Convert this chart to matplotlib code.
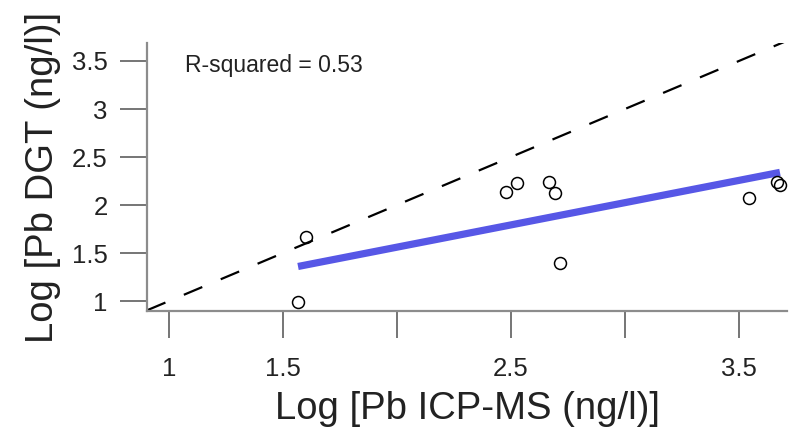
import numpy as np
import matplotlib
matplotlib.use("Agg")
import matplotlib.pyplot as plt

plt.rcParams['font.family'] = ['Liberation Sans', 'DejaVu Sans']

# Log Pb, ICP-MS vs DGT
icp_ms = [1.566, 1.602, 2.477, 2.528, 2.667, 2.693, 2.715, 3.546, 3.665, 3.680]
dgt = [0.993, 1.670, 2.139, 2.226, 2.243, 2.122, 1.399, 2.070, 2.243, 2.208]

# fitted line, drawn over the range of the data
fit_x = [1.566, 3.680]
fit_y = [1.36, 2.34]

r_squared = 0.53

x_ticks = [1, 1.5, 2, 2.5, 3, 3.5]
x_ticklabels = ["1", "1.5", "", "2.5", "", "3.5"]
y_ticks = [1, 1.5, 2, 2.5, 3, 3.5]
y_ticklabels = ["1", "1.5", "2", "2.5", "3", "3.5"]


def plot_lead(ax):
    # 1:1 line
    ax.plot([0.9035, 4.0], [0.9035, 4.0], color="black", lw=1.6,
            dashes=(9, 9), zorder=2)
    ax.plot(fit_x, fit_y, color="#5757E6", lw=5.2,
            solid_capstyle="butt", zorder=3)
    ax.plot(icp_ms, dgt, "o", mfc="none", mec="black", ms=8.6,
            mew=1.1, zorder=4)

    ax.text(1.07, 3.458, f"R-squared = {r_squared}", fontsize=16.5,
            ha="left", va="center", color="#222222")

    ax.set_xlim(0.9035, 3.711)
    ax.set_ylim(0.896, 3.6875)

    ax.set_xticks(x_ticks)
    ax.set_xticklabels(x_ticklabels)
    ax.set_yticks(y_ticks)
    ax.set_yticklabels(y_ticklabels)

    for side in ["top", "right"]:
        ax.spines[side].set_visible(False)
    for side in ["left", "bottom"]:
        ax.spines[side].set_color("#8c8c8c")
        ax.spines[side].set_linewidth(1.6)

    ax.tick_params(axis="both", length=19.4, width=1.3, color="#6a6a6a",
                   labelsize=18.5, labelcolor="#222222")
    ax.tick_params(axis="x", pad=14)
    ax.tick_params(axis="y", pad=9)

    ax.set_xlabel("Log [Pb ICP-MS (ng/l)]", fontsize=27.5, color="#222222",
                  labelpad=7)
    ax.set_ylabel("Log [Pb DGT (ng/l)]", fontsize=27.5, color="#222222",
                  labelpad=8)


def main():
    fig = plt.figure(figsize=(7.89, 4.32), dpi=100)
    ax = fig.add_axes([0.1863, 0.280, 0.8112, 0.6205])
    plot_lead(ax)
    fig.savefig("out.png", dpi=100)


if __name__ == "__main__":
    main()
